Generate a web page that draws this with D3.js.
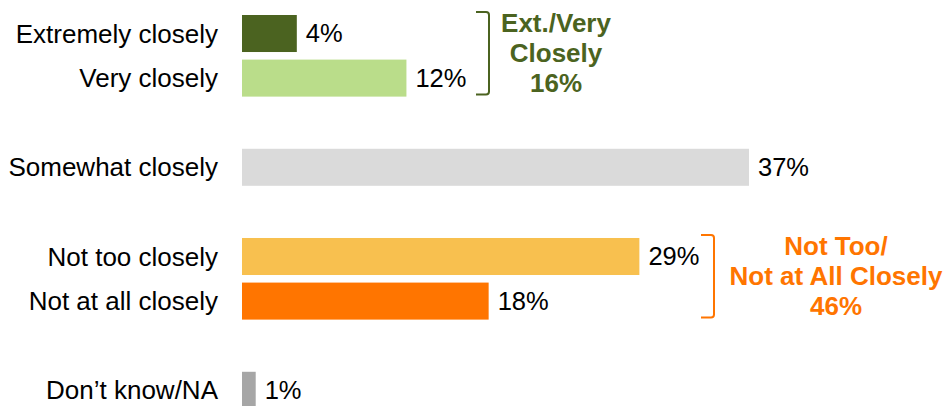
<!DOCTYPE html>
<html>
<head>
<meta charset="utf-8">
<script src="https://cdn.jsdelivr.net/npm/d3@7"></script>
<style>
  body { margin: 0; background: #fff; }
  svg { display: block; font-family: "Liberation Sans", Arial, sans-serif; }
</style>
</head>
<body>
<svg id="chart" width="948" height="406"></svg>
<script>
// rows, blanks are spacer slots
const categories = ["Extremely closely", "Very closely", "", "Somewhat closely", "", "Not too closely", "Not at all closely", "", "Don\u2019t know/NA"];
const values = [4, 12, null, 37, null, 29, 18, null, 1];
const barColors = ["#4B6320", "#BADD8A", null, "#DADADA", null, "#F8C04F", "#FF7500", null, "#A6A6A6"];

const groups = [
  { rows: [0, 1], lines: ["Ext./Very", "Closely", "16%"], color: "#4B6320", bx: 489, tx: 556 },
  { rows: [5, 6], lines: ["Not Too/", "Not at All Closely", "46%"], color: "#FF7500", bx: 714, tx: 836 }
];

const svg = d3.select("#chart");
const left = 242;

const x = d3.scaleLinear()
  .domain([0, 37])
  .range([left, 749]);

const y = d3.scaleBand()
  .domain(d3.range(categories.length))
  .range([15, 15 + 8 * 44.6 + 37])
  .paddingInner(0.17);

const rows = categories.map((c, i) => ({ label: c, value: values[i], color: barColors[i], i }))
  .filter(d => d.value !== null);

svg.selectAll(".bar")
  .data(rows)
  .enter()
  .append("rect")
  .attr("class", "bar")
  .attr("x", x(0))
  .attr("y", d => y(d.i))
  .attr("width", d => x(d.value) - x(0))
  .attr("height", y.bandwidth())
  .attr("fill", d => d.color);

svg.selectAll(".cat")
  .data(rows)
  .enter()
  .append("text")
  .attr("class", "cat")
  .attr("x", 218)
  .attr("y", d => y(d.i) + y.bandwidth() / 2)
  .attr("dy", "0.35em")
  .attr("text-anchor", "end")
  .attr("font-size", "26px")
  .attr("fill", "#000")
  .text(d => d.label);

svg.selectAll(".val")
  .data(rows)
  .enter()
  .append("text")
  .attr("class", "val")
  .attr("x", d => x(d.value) + 9)
  .attr("y", d => y(d.i) + y.bandwidth() / 2)
  .attr("dy", "0.35em")
  .attr("font-size", "25.5px")
  .attr("fill", "#000")
  .text(d => d.value + "%");

// group brackets
groups.forEach(g => {
  const top = y(g.rows[0]) - 3;
  const bot = y(g.rows[1]) + y.bandwidth() - 2;
  const r = 3, w = 13;
  svg.append("path")
    .attr("d", `M${g.bx - w},${top} H${g.bx - r} Q${g.bx},${top} ${g.bx},${top + r} V${bot - r} Q${g.bx},${bot} ${g.bx - r},${bot} H${g.bx - w}`)
    .attr("fill", "none")
    .attr("stroke", g.color)
    .attr("stroke-width", 2);

  const mid = (top + bot) / 2;
  svg.append("text")
    .attr("x", g.tx)
    .attr("text-anchor", "middle")
    .attr("font-size", "26px")
    .attr("font-weight", "bold")
    .attr("fill", g.color)
    .selectAll("tspan")
    .data(g.lines)
    .enter()
    .append("tspan")
    .attr("x", g.tx)
    .attr("y", (d, i) => mid + (i - 1) * 30 + 9)
    .text(d => d);
});
</script>
</body>
</html>
